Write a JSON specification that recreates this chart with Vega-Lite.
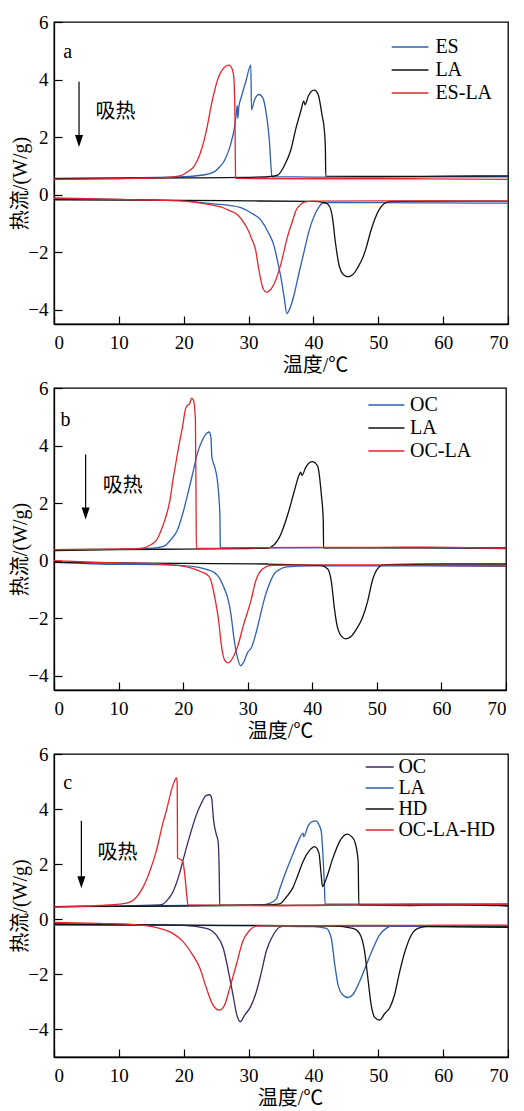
{
"$schema": "https://vega.github.io/schema/vega-lite/v6.json",
"padding": {"left": 10, "top": 12, "right": 0, "bottom": 0},
"background": "white",
"spacing": 64,
"bounds": "flush",
"resolve": {"scale": {"color": "independent", "x": "independent", "y": "independent"}, "legend": {"color": "independent"}},
"config": {
  "view": {"stroke": "black", "strokeWidth": 1.3},
  "style": {"guide-label": {"font": "Liberation Serif"}, "guide-title": {"font": "Liberation Serif, Noto Sans CJK SC"}},
  "axis": {"grid": false, "domainColor": "black", "domainWidth": 1.3, "tickColor": "black", "tickSize": -8, "tickWidth": 1.2,
           "labelFont": "Liberation Serif", "labelFontSize": 19, "labelColor": "black",
           "titleFont": "Liberation Serif, Noto Sans CJK SC", "titleFontSize": 20, "titleFontWeight": "normal", "titleColor": "black"},
  "axisX": {"labelPadding": 17, "titlePadding": 3},
  "axisY": {"labelPadding": 14, "titlePadding": -3},
  "legend": {"orient": "none", "title": null, "labelFont": "Liberation Serif", "labelFontSize": 20, "labelColor": "black",
             "symbolStrokeWidth": 1.5, "rowPadding": 0}
},
"datasets": {
"a": [
{"s":"ES","b":"u","t":0,"q":0.56},{"s":"ES","b":"u","t":10,"q":0.58},{"s":"ES","b":"u","t":20,"q":0.62},{"s":"ES","b":"u","t":23,"q":0.68},{"s":"ES","b":"u","t":24.6,"q":0.78},{"s":"ES","b":"u","t":25.5,"q":0.95},{"s":"ES","b":"u","t":26.2,"q":1.15},{"s":"ES","b":"u","t":26.8,"q":1.45},{"s":"ES","b":"u","t":27.3,"q":1.8},{"s":"ES","b":"u","t":27.8,"q":2.3},{"s":"ES","b":"u","t":28.1,"q":2.8},{"s":"ES","b":"u","t":28.25,"q":3.1},{"s":"ES","b":"u","t":28.35,"q":2.65},{"s":"ES","b":"u","t":28.5,"q":3.05},{"s":"ES","b":"u","t":28.9,"q":3.4},{"s":"ES","b":"u","t":29.6,"q":3.95},{"s":"ES","b":"u","t":30.35,"q":4.5},{"s":"ES","b":"u","t":30.45,"q":2.95},{"s":"ES","b":"u","t":30.9,"q":3.28},{"s":"ES","b":"u","t":31.6,"q":3.48},{"s":"ES","b":"u","t":32.2,"q":3.36},{"s":"ES","b":"u","t":32.7,"q":2.85},{"s":"ES","b":"u","t":33.2,"q":1.9},{"s":"ES","b":"u","t":33.45,"q":1.0},{"s":"ES","b":"u","t":33.6,"q":0.62},{"s":"ES","b":"u","t":40,"q":0.61},{"s":"ES","b":"u","t":50,"q":0.61},{"s":"ES","b":"u","t":60,"q":0.62},{"s":"ES","b":"u","t":70,"q":0.62},
{"s":"ES","b":"d","t":0,"q":-0.14},{"s":"ES","b":"d","t":10,"q":-0.17},{"s":"ES","b":"d","t":20,"q":-0.22},{"s":"ES","b":"d","t":22.6,"q":-0.27},{"s":"ES","b":"d","t":25,"q":-0.33},{"s":"ES","b":"d","t":26.8,"q":-0.37},{"s":"ES","b":"d","t":28.8,"q":-0.45},{"s":"ES","b":"d","t":30.5,"q":-0.65},{"s":"ES","b":"d","t":31.9,"q":-0.89},{"s":"ES","b":"d","t":33.0,"q":-1.3},{"s":"ES","b":"d","t":33.95,"q":-1.8},{"s":"ES","b":"d","t":34.5,"q":-2.35},{"s":"ES","b":"d","t":35.0,"q":-2.9},{"s":"ES","b":"d","t":35.5,"q":-3.6},{"s":"ES","b":"d","t":35.9,"q":-4.14},{"s":"ES","b":"d","t":36.3,"q":-4.0},{"s":"ES","b":"d","t":37.0,"q":-3.5},{"s":"ES","b":"d","t":37.8,"q":-2.7},{"s":"ES","b":"d","t":38.6,"q":-1.94},{"s":"ES","b":"d","t":39.4,"q":-1.2},{"s":"ES","b":"d","t":40.1,"q":-0.75},{"s":"ES","b":"d","t":40.8,"q":-0.45},{"s":"ES","b":"d","t":41.4,"q":-0.3},{"s":"ES","b":"d","t":42.5,"q":-0.28},{"s":"ES","b":"d","t":50,"q":-0.28},{"s":"ES","b":"d","t":60,"q":-0.29},{"s":"ES","b":"d","t":70,"q":-0.3},
{"s":"LA","b":"u","t":0,"q":0.55},{"s":"LA","b":"u","t":10,"q":0.57},{"s":"LA","b":"u","t":20,"q":0.58},{"s":"LA","b":"u","t":30,"q":0.6},{"s":"LA","b":"u","t":33,"q":0.62},{"s":"LA","b":"u","t":34.5,"q":0.68},{"s":"LA","b":"u","t":35.5,"q":1.0},{"s":"LA","b":"u","t":36.5,"q":1.54},{"s":"LA","b":"u","t":37.3,"q":2.3},{"s":"LA","b":"u","t":38.1,"q":2.94},{"s":"LA","b":"u","t":38.5,"q":3.25},{"s":"LA","b":"u","t":38.7,"q":3.12},{"s":"LA","b":"u","t":39.2,"q":3.42},{"s":"LA","b":"u","t":40.1,"q":3.63},{"s":"LA","b":"u","t":40.7,"q":3.5},{"s":"LA","b":"u","t":41.3,"q":2.8},{"s":"LA","b":"u","t":41.7,"q":2.2},{"s":"LA","b":"u","t":41.85,"q":1.54},{"s":"LA","b":"u","t":41.9,"q":0.64},{"s":"LA","b":"u","t":50,"q":0.63},{"s":"LA","b":"u","t":60,"q":0.64},{"s":"LA","b":"u","t":70,"q":0.65},
{"s":"LA","b":"d","t":0,"q":-0.18},{"s":"LA","b":"d","t":10,"q":-0.19},{"s":"LA","b":"d","t":20,"q":-0.2},{"s":"LA","b":"d","t":30,"q":-0.22},{"s":"LA","b":"d","t":40,"q":-0.24},{"s":"LA","b":"d","t":41.5,"q":-0.27},{"s":"LA","b":"d","t":42.2,"q":-0.33},{"s":"LA","b":"d","t":42.7,"q":-0.54},{"s":"LA","b":"d","t":43.0,"q":-0.9},{"s":"LA","b":"d","t":43.3,"q":-1.5},{"s":"LA","b":"d","t":43.6,"q":-2.0},{"s":"LA","b":"d","t":44.0,"q":-2.5},{"s":"LA","b":"d","t":44.6,"q":-2.78},{"s":"LA","b":"d","t":45.3,"q":-2.86},{"s":"LA","b":"d","t":46.1,"q":-2.78},{"s":"LA","b":"d","t":46.8,"q":-2.55},{"s":"LA","b":"d","t":47.6,"q":-2.2},{"s":"LA","b":"d","t":48.2,"q":-1.8},{"s":"LA","b":"d","t":48.8,"q":-1.3},{"s":"LA","b":"d","t":49.4,"q":-0.89},{"s":"LA","b":"d","t":50.2,"q":-0.5},{"s":"LA","b":"d","t":51.0,"q":-0.3},{"s":"LA","b":"d","t":52,"q":-0.24},{"s":"LA","b":"d","t":60,"q":-0.23},{"s":"LA","b":"d","t":70,"q":-0.23},
{"s":"ES-LA","b":"u","t":0,"q":0.53},{"s":"ES-LA","b":"u","t":10,"q":0.55},{"s":"ES-LA","b":"u","t":17.5,"q":0.6},{"s":"ES-LA","b":"u","t":19.55,"q":0.66},{"s":"ES-LA","b":"u","t":20.5,"q":0.78},{"s":"ES-LA","b":"u","t":21.6,"q":0.98},{"s":"ES-LA","b":"u","t":22.5,"q":1.4},{"s":"ES-LA","b":"u","t":23.15,"q":1.89},{"s":"ES-LA","b":"u","t":23.7,"q":2.45},{"s":"ES-LA","b":"u","t":24.2,"q":3.05},{"s":"ES-LA","b":"u","t":24.7,"q":3.55},{"s":"ES-LA","b":"u","t":25.2,"q":3.98},{"s":"ES-LA","b":"u","t":26.0,"q":4.35},{"s":"ES-LA","b":"u","t":27.0,"q":4.5},{"s":"ES-LA","b":"u","t":27.5,"q":4.35},{"s":"ES-LA","b":"u","t":27.75,"q":4.0},{"s":"ES-LA","b":"u","t":27.9,"q":2.7},{"s":"ES-LA","b":"u","t":28.0,"q":0.6},{"s":"ES-LA","b":"u","t":28.1,"q":0.56},{"s":"ES-LA","b":"u","t":40,"q":0.55},{"s":"ES-LA","b":"u","t":55,"q":0.55},{"s":"ES-LA","b":"u","t":70,"q":0.53},
{"s":"ES-LA","b":"d","t":0,"q":-0.12},{"s":"ES-LA","b":"d","t":10,"q":-0.17},{"s":"ES-LA","b":"d","t":19.55,"q":-0.22},{"s":"ES-LA","b":"d","t":22,"q":-0.28},{"s":"ES-LA","b":"d","t":24,"q":-0.35},{"s":"ES-LA","b":"d","t":25.7,"q":-0.43},{"s":"ES-LA","b":"d","t":27,"q":-0.55},{"s":"ES-LA","b":"d","t":28.3,"q":-0.7},{"s":"ES-LA","b":"d","t":29.2,"q":-0.95},{"s":"ES-LA","b":"d","t":29.85,"q":-1.2},{"s":"ES-LA","b":"d","t":30.5,"q":-1.55},{"s":"ES-LA","b":"d","t":31.1,"q":-1.94},{"s":"ES-LA","b":"d","t":31.5,"q":-2.5},{"s":"ES-LA","b":"d","t":31.9,"q":-2.98},{"s":"ES-LA","b":"d","t":32.3,"q":-3.3},{"s":"ES-LA","b":"d","t":32.8,"q":-3.4},{"s":"ES-LA","b":"d","t":33.4,"q":-3.3},{"s":"ES-LA","b":"d","t":33.95,"q":-3.1},{"s":"ES-LA","b":"d","t":35.0,"q":-2.4},{"s":"ES-LA","b":"d","t":36.0,"q":-1.47},{"s":"ES-LA","b":"d","t":36.8,"q":-0.9},{"s":"ES-LA","b":"d","t":37.3,"q":-0.55},{"s":"ES-LA","b":"d","t":38.0,"q":-0.35},{"s":"ES-LA","b":"d","t":38.6,"q":-0.26},{"s":"ES-LA","b":"d","t":40,"q":-0.23},{"s":"ES-LA","b":"d","t":50,"q":-0.22},{"s":"ES-LA","b":"d","t":60,"q":-0.22},{"s":"ES-LA","b":"d","t":70,"q":-0.23}
],
"b": [
{"s":"OC","b":"u","t":0,"q":0.38},{"s":"OC","b":"u","t":10,"q":0.4},{"s":"OC","b":"u","t":14,"q":0.42},{"s":"OC","b":"u","t":16.0,"q":0.45},{"s":"OC","b":"u","t":17.05,"q":0.5},{"s":"OC","b":"u","t":18.0,"q":0.7},{"s":"OC","b":"u","t":19.1,"q":1.05},{"s":"OC","b":"u","t":19.9,"q":1.6},{"s":"OC","b":"u","t":20.7,"q":2.3},{"s":"OC","b":"u","t":21.5,"q":3.05},{"s":"OC","b":"u","t":22.2,"q":3.72},{"s":"OC","b":"u","t":23.0,"q":4.2},{"s":"OC","b":"u","t":23.5,"q":4.39},{"s":"OC","b":"u","t":24.0,"q":4.47},{"s":"OC","b":"u","t":24.3,"q":4.3},{"s":"OC","b":"u","t":24.45,"q":3.6},{"s":"OC","b":"u","t":24.9,"q":3.25},{"s":"OC","b":"u","t":25.3,"q":2.79},{"s":"OC","b":"u","t":25.6,"q":2.0},{"s":"OC","b":"u","t":25.7,"q":1.5},{"s":"OC","b":"u","t":25.75,"q":0.46},{"s":"OC","b":"u","t":25.8,"q":0.44},{"s":"OC","b":"u","t":35,"q":0.44},{"s":"OC","b":"u","t":45,"q":0.45},{"s":"OC","b":"u","t":55,"q":0.45},{"s":"OC","b":"u","t":70,"q":0.42},
{"s":"OC","b":"d","t":0,"q":-0.06},{"s":"OC","b":"d","t":7.2,"q":-0.12},{"s":"OC","b":"d","t":17.6,"q":-0.15},{"s":"OC","b":"d","t":21.7,"q":-0.21},{"s":"OC","b":"d","t":23.5,"q":-0.3},{"s":"OC","b":"d","t":24.8,"q":-0.41},{"s":"OC","b":"d","t":25.6,"q":-0.6},{"s":"OC","b":"d","t":26.3,"q":-0.93},{"s":"OC","b":"d","t":26.9,"q":-1.3},{"s":"OC","b":"d","t":27.4,"q":-1.86},{"s":"OC","b":"d","t":27.9,"q":-2.75},{"s":"OC","b":"d","t":28.4,"q":-3.36},{"s":"OC","b":"d","t":28.9,"q":-3.66},{"s":"OC","b":"d","t":29.3,"q":-3.56},{"s":"OC","b":"d","t":30.0,"q":-3.19},{"s":"OC","b":"d","t":30.6,"q":-3.01},{"s":"OC","b":"d","t":31.25,"q":-2.55},{"s":"OC","b":"d","t":32.0,"q":-1.86},{"s":"OC","b":"d","t":32.5,"q":-1.4},{"s":"OC","b":"d","t":33.05,"q":-1.0},{"s":"OC","b":"d","t":34.1,"q":-0.46},{"s":"OC","b":"d","t":35.0,"q":-0.3},{"s":"OC","b":"d","t":36,"q":-0.22},{"s":"OC","b":"d","t":40,"q":-0.18},{"s":"OC","b":"d","t":55,"q":-0.18},{"s":"OC","b":"d","t":70,"q":-0.2},
{"s":"LA","b":"u","t":0,"q":0.35},{"s":"LA","b":"u","t":10,"q":0.38},{"s":"LA","b":"u","t":20,"q":0.4},{"s":"LA","b":"u","t":30,"q":0.42},{"s":"LA","b":"u","t":33,"q":0.43},{"s":"LA","b":"u","t":34.1,"q":0.55},{"s":"LA","b":"u","t":35.1,"q":0.9},{"s":"LA","b":"u","t":36.2,"q":1.6},{"s":"LA","b":"u","t":37.2,"q":2.4},{"s":"LA","b":"u","t":38.0,"q":3.0},{"s":"LA","b":"u","t":38.2,"q":3.07},{"s":"LA","b":"u","t":38.4,"q":2.96},{"s":"LA","b":"u","t":39.0,"q":3.25},{"s":"LA","b":"u","t":40.0,"q":3.44},{"s":"LA","b":"u","t":40.8,"q":3.3},{"s":"LA","b":"u","t":41.4,"q":2.3},{"s":"LA","b":"u","t":41.7,"q":1.4},{"s":"LA","b":"u","t":41.75,"q":0.44},{"s":"LA","b":"u","t":50,"q":0.44},{"s":"LA","b":"u","t":60,"q":0.44},{"s":"LA","b":"u","t":70,"q":0.44},
{"s":"LA","b":"d","t":0,"q":-0.06},{"s":"LA","b":"d","t":10,"q":-0.08},{"s":"LA","b":"d","t":20,"q":-0.1},{"s":"LA","b":"d","t":33,"q":-0.12},{"s":"LA","b":"d","t":41.3,"q":-0.17},{"s":"LA","b":"d","t":42.4,"q":-0.29},{"s":"LA","b":"d","t":43.0,"q":-0.8},{"s":"LA","b":"d","t":43.4,"q":-1.62},{"s":"LA","b":"d","t":43.9,"q":-2.32},{"s":"LA","b":"d","t":44.7,"q":-2.67},{"s":"LA","b":"d","t":45.2,"q":-2.72},{"s":"LA","b":"d","t":46.0,"q":-2.64},{"s":"LA","b":"d","t":46.7,"q":-2.43},{"s":"LA","b":"d","t":47.8,"q":-1.97},{"s":"LA","b":"d","t":48.6,"q":-1.39},{"s":"LA","b":"d","t":49.3,"q":-0.7},{"s":"LA","b":"d","t":50.1,"q":-0.29},{"s":"LA","b":"d","t":51.1,"q":-0.14},{"s":"LA","b":"d","t":60,"q":-0.12},{"s":"LA","b":"d","t":70,"q":-0.12},
{"s":"OC-LA","b":"u","t":0,"q":0.38},{"s":"OC-LA","b":"u","t":10,"q":0.4},{"s":"OC-LA","b":"u","t":13.4,"q":0.42},{"s":"OC-LA","b":"u","t":15.0,"q":0.55},{"s":"OC-LA","b":"u","t":16.0,"q":0.75},{"s":"OC-LA","b":"u","t":16.5,"q":1.0},{"s":"OC-LA","b":"u","t":17.0,"q":1.3},{"s":"OC-LA","b":"u","t":17.6,"q":1.74},{"s":"OC-LA","b":"u","t":18.0,"q":2.15},{"s":"OC-LA","b":"u","t":18.35,"q":2.7},{"s":"OC-LA","b":"u","t":18.8,"q":3.3},{"s":"OC-LA","b":"u","t":19.4,"q":4.07},{"s":"OC-LA","b":"u","t":19.9,"q":4.64},{"s":"OC-LA","b":"u","t":20.4,"q":5.3},{"s":"OC-LA","b":"u","t":20.7,"q":5.4},{"s":"OC-LA","b":"u","t":21.0,"q":5.45},{"s":"OC-LA","b":"u","t":21.3,"q":5.65},{"s":"OC-LA","b":"u","t":21.6,"q":5.57},{"s":"OC-LA","b":"u","t":21.9,"q":4.9},{"s":"OC-LA","b":"u","t":22.0,"q":2.0},{"s":"OC-LA","b":"u","t":22.05,"q":0.42},{"s":"OC-LA","b":"u","t":30,"q":0.44},{"s":"OC-LA","b":"u","t":40,"q":0.46},{"s":"OC-LA","b":"u","t":50,"q":0.46},{"s":"OC-LA","b":"u","t":58,"q":0.47},{"s":"OC-LA","b":"u","t":70,"q":0.42},
{"s":"OC-LA","b":"d","t":0,"q":0.0},{"s":"OC-LA","b":"d","t":5,"q":-0.05},{"s":"OC-LA","b":"d","t":10,"q":-0.08},{"s":"OC-LA","b":"d","t":17.6,"q":-0.14},{"s":"OC-LA","b":"d","t":20.7,"q":-0.23},{"s":"OC-LA","b":"d","t":22.7,"q":-0.38},{"s":"OC-LA","b":"d","t":24.0,"q":-0.55},{"s":"OC-LA","b":"d","t":24.5,"q":-0.85},{"s":"OC-LA","b":"d","t":25.0,"q":-1.4},{"s":"OC-LA","b":"d","t":25.5,"q":-2.1},{"s":"OC-LA","b":"d","t":25.9,"q":-2.9},{"s":"OC-LA","b":"d","t":26.4,"q":-3.45},{"s":"OC-LA","b":"d","t":27.0,"q":-3.56},{"s":"OC-LA","b":"d","t":27.4,"q":-3.48},{"s":"OC-LA","b":"d","t":28.4,"q":-3.01},{"s":"OC-LA","b":"d","t":29.4,"q":-2.2},{"s":"OC-LA","b":"d","t":30.5,"q":-1.39},{"s":"OC-LA","b":"d","t":31.25,"q":-0.7},{"s":"OC-LA","b":"d","t":32.3,"q":-0.29},{"s":"OC-LA","b":"d","t":33.6,"q":-0.17},{"s":"OC-LA","b":"d","t":40,"q":-0.15},{"s":"OC-LA","b":"d","t":50,"q":-0.15},{"s":"OC-LA","b":"d","t":58,"q":-0.17},{"s":"OC-LA","b":"d","t":70,"q":-0.18}
],
"c": [
{"s":"OC","b":"u","t":0,"q":0.46},{"s":"OC","b":"u","t":10,"q":0.48},{"s":"OC","b":"u","t":16.3,"q":0.52},{"s":"OC","b":"u","t":16.8,"q":0.55},{"s":"OC","b":"u","t":17.3,"q":0.65},{"s":"OC","b":"u","t":18.35,"q":1.0},{"s":"OC","b":"u","t":19.4,"q":1.7},{"s":"OC","b":"u","t":19.9,"q":2.15},{"s":"OC","b":"u","t":20.9,"q":3.0},{"s":"OC","b":"u","t":21.95,"q":3.79},{"s":"OC","b":"u","t":22.5,"q":4.1},{"s":"OC","b":"u","t":23.5,"q":4.5},{"s":"OC","b":"u","t":24.0,"q":4.52},{"s":"OC","b":"u","t":24.3,"q":4.4},{"s":"OC","b":"u","t":24.6,"q":3.61},{"s":"OC","b":"u","t":25.0,"q":3.1},{"s":"OC","b":"u","t":25.3,"q":2.83},{"s":"OC","b":"u","t":25.45,"q":1.98},{"s":"OC","b":"u","t":25.5,"q":1.3},{"s":"OC","b":"u","t":25.55,"q":0.52},{"s":"OC","b":"u","t":35,"q":0.5},{"s":"OC","b":"u","t":45,"q":0.52},{"s":"OC","b":"u","t":60,"q":0.52},{"s":"OC","b":"u","t":70,"q":0.48},
{"s":"OC","b":"d","t":0,"q":-0.17},{"s":"OC","b":"d","t":10,"q":-0.19},{"s":"OC","b":"d","t":20,"q":-0.22},{"s":"OC","b":"d","t":23.5,"q":-0.33},{"s":"OC","b":"d","t":25.0,"q":-0.57},{"s":"OC","b":"d","t":26.1,"q":-1.05},{"s":"OC","b":"d","t":26.8,"q":-1.78},{"s":"OC","b":"d","t":27.6,"q":-2.75},{"s":"OC","b":"d","t":28.2,"q":-3.48},{"s":"OC","b":"d","t":28.7,"q":-3.72},{"s":"OC","b":"d","t":29.4,"q":-3.48},{"s":"OC","b":"d","t":30.3,"q":-3.18},{"s":"OC","b":"d","t":31.2,"q":-2.63},{"s":"OC","b":"d","t":32.0,"q":-1.9},{"s":"OC","b":"d","t":32.7,"q":-1.18},{"s":"OC","b":"d","t":33.8,"q":-0.57},{"s":"OC","b":"d","t":34.8,"q":-0.29},{"s":"OC","b":"d","t":35.8,"q":-0.24},{"s":"OC","b":"d","t":50,"q":-0.25},{"s":"OC","b":"d","t":70,"q":-0.27},
{"s":"LA","b":"u","t":0,"q":0.46},{"s":"LA","b":"u","t":10,"q":0.48},{"s":"LA","b":"u","t":20,"q":0.5},{"s":"LA","b":"u","t":31.7,"q":0.52},{"s":"LA","b":"u","t":33.25,"q":0.58},{"s":"LA","b":"u","t":34.3,"q":0.75},{"s":"LA","b":"u","t":34.8,"q":1.1},{"s":"LA","b":"u","t":35.8,"q":1.75},{"s":"LA","b":"u","t":36.8,"q":2.34},{"s":"LA","b":"u","t":37.6,"q":2.8},{"s":"LA","b":"u","t":38.4,"q":3.13},{"s":"LA","b":"u","t":38.5,"q":3.0},{"s":"LA","b":"u","t":39.2,"q":3.4},{"s":"LA","b":"u","t":39.9,"q":3.55},{"s":"LA","b":"u","t":40.45,"q":3.57},{"s":"LA","b":"u","t":40.8,"q":3.45},{"s":"LA","b":"u","t":41.2,"q":3.2},{"s":"LA","b":"u","t":41.5,"q":2.2},{"s":"LA","b":"u","t":41.7,"q":1.2},{"s":"LA","b":"u","t":41.8,"q":0.55},{"s":"LA","b":"u","t":50,"q":0.55},{"s":"LA","b":"u","t":60,"q":0.56},{"s":"LA","b":"u","t":70,"q":0.56},
{"s":"LA","b":"d","t":0,"q":-0.21},{"s":"LA","b":"d","t":20,"q":-0.22},{"s":"LA","b":"d","t":39.9,"q":-0.27},{"s":"LA","b":"d","t":42.0,"q":-0.33},{"s":"LA","b":"d","t":42.75,"q":-0.69},{"s":"LA","b":"d","t":43.3,"q":-1.66},{"s":"LA","b":"d","t":43.8,"q":-2.39},{"s":"LA","b":"d","t":44.55,"q":-2.75},{"s":"LA","b":"d","t":45.3,"q":-2.84},{"s":"LA","b":"d","t":46.1,"q":-2.73},{"s":"LA","b":"d","t":47.1,"q":-2.27},{"s":"LA","b":"d","t":48.15,"q":-1.66},{"s":"LA","b":"d","t":49.2,"q":-1.05},{"s":"LA","b":"d","t":50.2,"q":-0.57},{"s":"LA","b":"d","t":51.2,"q":-0.33},{"s":"LA","b":"d","t":52.3,"q":-0.24},{"s":"LA","b":"d","t":70,"q":-0.24},
{"s":"HD","b":"u","t":0,"q":0.46},{"s":"HD","b":"u","t":10,"q":0.47},{"s":"HD","b":"u","t":20,"q":0.48},{"s":"HD","b":"u","t":32.7,"q":0.52},{"s":"HD","b":"u","t":34.8,"q":0.56},{"s":"HD","b":"u","t":35.8,"q":0.8},{"s":"HD","b":"u","t":36.8,"q":1.13},{"s":"HD","b":"u","t":37.6,"q":1.6},{"s":"HD","b":"u","t":38.4,"q":2.1},{"s":"HD","b":"u","t":39.4,"q":2.5},{"s":"HD","b":"u","t":40.2,"q":2.64},{"s":"HD","b":"u","t":40.85,"q":2.4},{"s":"HD","b":"u","t":41.2,"q":1.6},{"s":"HD","b":"u","t":41.4,"q":1.19},{"s":"HD","b":"u","t":42.0,"q":1.49},{"s":"HD","b":"u","t":43.0,"q":2.22},{"s":"HD","b":"u","t":44.05,"q":2.83},{"s":"HD","b":"u","t":45.2,"q":3.09},{"s":"HD","b":"u","t":45.9,"q":3.0},{"s":"HD","b":"u","t":46.4,"q":2.8},{"s":"HD","b":"u","t":46.9,"q":2.1},{"s":"HD","b":"u","t":47.0,"q":0.52},{"s":"HD","b":"u","t":55,"q":0.5},{"s":"HD","b":"u","t":62,"q":0.52},{"s":"HD","b":"u","t":70,"q":0.5},
{"s":"HD","b":"d","t":0,"q":-0.18},{"s":"HD","b":"d","t":20,"q":-0.21},{"s":"HD","b":"d","t":43.0,"q":-0.24},{"s":"HD","b":"d","t":46.1,"q":-0.33},{"s":"HD","b":"d","t":47.1,"q":-0.51},{"s":"HD","b":"d","t":47.9,"q":-1.18},{"s":"HD","b":"d","t":48.4,"q":-2.15},{"s":"HD","b":"d","t":48.9,"q":-3.11},{"s":"HD","b":"d","t":49.4,"q":-3.54},{"s":"HD","b":"d","t":50.2,"q":-3.66},{"s":"HD","b":"d","t":51.0,"q":-3.42},{"s":"HD","b":"d","t":51.7,"q":-3.24},{"s":"HD","b":"d","t":52.5,"q":-2.75},{"s":"HD","b":"d","t":53.3,"q":-1.9},{"s":"HD","b":"d","t":54.1,"q":-1.18},{"s":"HD","b":"d","t":55.1,"q":-0.57},{"s":"HD","b":"d","t":56.1,"q":-0.33},{"s":"HD","b":"d","t":57.4,"q":-0.27},{"s":"HD","b":"d","t":70,"q":-0.29},
{"s":"OC-LA-HD","b":"u","t":0,"q":0.44},{"s":"OC-LA-HD","b":"u","t":7.0,"q":0.5},{"s":"OC-LA-HD","b":"u","t":10.1,"q":0.55},{"s":"OC-LA-HD","b":"u","t":11.7,"q":0.62},{"s":"OC-LA-HD","b":"u","t":12.7,"q":0.8},{"s":"OC-LA-HD","b":"u","t":13.7,"q":1.15},{"s":"OC-LA-HD","b":"u","t":14.7,"q":1.7},{"s":"OC-LA-HD","b":"u","t":15.8,"q":2.5},{"s":"OC-LA-HD","b":"u","t":16.8,"q":3.5},{"s":"OC-LA-HD","b":"u","t":17.3,"q":3.92},{"s":"OC-LA-HD","b":"u","t":17.8,"q":4.4},{"s":"OC-LA-HD","b":"u","t":18.35,"q":4.88},{"s":"OC-LA-HD","b":"u","t":18.75,"q":5.1},{"s":"OC-LA-HD","b":"u","t":18.9,"q":5.13},{"s":"OC-LA-HD","b":"u","t":19.0,"q":4.9},{"s":"OC-LA-HD","b":"u","t":19.05,"q":2.22},{"s":"OC-LA-HD","b":"u","t":19.6,"q":2.16},{"s":"OC-LA-HD","b":"u","t":19.9,"q":2.05},{"s":"OC-LA-HD","b":"u","t":20.1,"q":1.75},{"s":"OC-LA-HD","b":"u","t":20.3,"q":1.3},{"s":"OC-LA-HD","b":"u","t":20.5,"q":0.8},{"s":"OC-LA-HD","b":"u","t":20.65,"q":0.52},{"s":"OC-LA-HD","b":"u","t":30,"q":0.5},{"s":"OC-LA-HD","b":"u","t":40,"q":0.5},{"s":"OC-LA-HD","b":"u","t":50,"q":0.52},{"s":"OC-LA-HD","b":"u","t":60,"q":0.52},{"s":"OC-LA-HD","b":"u","t":70,"q":0.55},
{"s":"OC-LA-HD","b":"d","t":0,"q":-0.11},{"s":"OC-LA-HD","b":"d","t":7.0,"q":-0.15},{"s":"OC-LA-HD","b":"d","t":13.2,"q":-0.21},{"s":"OC-LA-HD","b":"d","t":16.3,"q":-0.33},{"s":"OC-LA-HD","b":"d","t":18.3,"q":-0.51},{"s":"OC-LA-HD","b":"d","t":19.9,"q":-0.81},{"s":"OC-LA-HD","b":"d","t":21.4,"q":-1.3},{"s":"OC-LA-HD","b":"d","t":22.5,"q":-1.78},{"s":"OC-LA-HD","b":"d","t":23.5,"q":-2.5},{"s":"OC-LA-HD","b":"d","t":24.5,"q":-3.11},{"s":"OC-LA-HD","b":"d","t":25.5,"q":-3.3},{"s":"OC-LA-HD","b":"d","t":26.3,"q":-3.11},{"s":"OC-LA-HD","b":"d","t":27.1,"q":-2.5},{"s":"OC-LA-HD","b":"d","t":28.1,"q":-1.66},{"s":"OC-LA-HD","b":"d","t":29.1,"q":-0.81},{"s":"OC-LA-HD","b":"d","t":30.2,"q":-0.39},{"s":"OC-LA-HD","b":"d","t":31.45,"q":-0.24},{"s":"OC-LA-HD","b":"d","t":40,"q":-0.23},{"s":"OC-LA-HD","b":"d","t":55,"q":-0.22},{"s":"OC-LA-HD","b":"d","t":70,"q":-0.21}
],
"notes": [
{"p":"a","k":"letter","label":"a","t":2.1,"q":4.95},
{"p":"a","k":"word","label":"吸热","t":9.5,"q":2.87},
{"p":"a","k":"arrow","t":3.86,"q":3.92,"q2":1.86},
{"p":"b","k":"letter","label":"b","t":1.8,"q":4.88},
{"p":"b","k":"word","label":"吸热","t":10.65,"q":2.61},
{"p":"b","k":"arrow","t":4.9,"q":3.69,"q2":1.64},
{"p":"c","k":"letter","label":"c","t":2.1,"q":4.94},
{"p":"c","k":"word","label":"吸热","t":9.8,"q":2.4},
{"p":"c","k":"arrow","t":4.22,"q":3.58,"q2":1.34}
]
},
"vconcat": [
{
 "width": 454, "height": 302,
 "layer": [
  {"data": {"name": "a"}, "mark": {"type": "line", "strokeWidth": 1.3, "interpolate": "monotone"},
   "encoding": {
    "x": {"field": "t", "type": "quantitative", "scale": {"domain": [0, 70], "nice": false}, "axis": {"values": [0,10,20,30,40,50,60,70], "title": "温度/℃", "titleX": 261}},
    "y": {"field": "q", "type": "quantitative", "scale": {"domain": [-4.5, 6], "nice": false}, "axis": {"values": [-4,-2,0,2,4,6], "title": "热流/(W/g)", "titleY": 161}},
    "color": {"field": "s", "type": "nominal", "scale": {"domain": ["ES","LA","ES-LA"], "range": ["#2e5fb3","#111111","#e5262d"]},
              "legend": {"legendX": 349.4, "legendY": 12, "symbolType": "M-2.06,0H1", "symbolSize": 576, "labelOffset": 6}},
    "detail": {"field": "b"}
   }},
  {"data": {"name": "notes"}, "transform": [{"filter": "datum.p == 'a' && datum.k == 'letter'"}],
   "mark": {"type": "text", "font": "Liberation Serif", "fontSize": 20, "color": "black", "align": "center", "baseline": "middle"},
   "encoding": {"x": {"field": "t", "type": "quantitative"}, "y": {"field": "q", "type": "quantitative"}, "text": {"field": "label"}}},
  {"data": {"name": "notes"}, "transform": [{"filter": "datum.p == 'a' && datum.k == 'word'"}],
   "mark": {"type": "text", "font": "Noto Sans CJK SC", "fontSize": 20, "color": "black", "align": "center", "baseline": "middle"},
   "encoding": {"x": {"field": "t", "type": "quantitative"}, "y": {"field": "q", "type": "quantitative"}, "text": {"field": "label"}}},
  {"data": {"name": "notes"}, "transform": [{"filter": "datum.p == 'a' && datum.k == 'arrow'"}],
   "mark": {"type": "rule", "color": "black", "strokeWidth": 1.2},
   "encoding": {"x": {"field": "t", "type": "quantitative"}, "y": {"field": "q", "type": "quantitative"}, "y2": {"field": "q2"}}},
  {"data": {"name": "notes"}, "transform": [{"filter": "datum.p == 'a' && datum.k == 'arrow'"}],
   "mark": {"type": "point", "shape": "M-0.67,-1L0.67,-1L0,1Z", "size": 144, "filled": true, "color": "black", "opacity": 1},
   "encoding": {"x": {"field": "t", "type": "quantitative"}, "y": {"field": "q2", "type": "quantitative"}}}
 ]
},
{
 "width": 452, "height": 302,
 "layer": [
  {"data": {"name": "b"}, "mark": {"type": "line", "strokeWidth": 1.3, "interpolate": "monotone"},
   "encoding": {
    "x": {"field": "t", "type": "quantitative", "scale": {"domain": [0, 70], "nice": false}, "axis": {"values": [0,10,20,30,40,50,60,70], "title": "温度/℃"}},
    "y": {"field": "q", "type": "quantitative", "scale": {"domain": [-4.5, 6], "nice": false}, "axis": {"values": [-4,-2,0,2,4,6], "title": "热流/(W/g)", "titleY": 161}},
    "color": {"field": "s", "type": "nominal", "scale": {"domain": ["OC","LA","OC-LA"], "range": ["#2e5fb3","#111111","#e5262d"]},
              "legend": {"legendX": 325, "legendY": 4, "symbolType": "M-1.97,0H1.03", "symbolSize": 576, "labelOffset": 5}},
    "detail": {"field": "b"}
   }},
  {"data": {"name": "notes"}, "transform": [{"filter": "datum.p == 'b' && datum.k == 'letter'"}],
   "mark": {"type": "text", "font": "Liberation Serif", "fontSize": 20, "color": "black", "align": "center", "baseline": "middle"},
   "encoding": {"x": {"field": "t", "type": "quantitative"}, "y": {"field": "q", "type": "quantitative"}, "text": {"field": "label"}}},
  {"data": {"name": "notes"}, "transform": [{"filter": "datum.p == 'b' && datum.k == 'word'"}],
   "mark": {"type": "text", "font": "Noto Sans CJK SC", "fontSize": 20, "color": "black", "align": "center", "baseline": "middle"},
   "encoding": {"x": {"field": "t", "type": "quantitative"}, "y": {"field": "q", "type": "quantitative"}, "text": {"field": "label"}}},
  {"data": {"name": "notes"}, "transform": [{"filter": "datum.p == 'b' && datum.k == 'arrow'"}],
   "mark": {"type": "rule", "color": "black", "strokeWidth": 1.2},
   "encoding": {"x": {"field": "t", "type": "quantitative"}, "y": {"field": "q", "type": "quantitative"}, "y2": {"field": "q2"}}},
  {"data": {"name": "notes"}, "transform": [{"filter": "datum.p == 'b' && datum.k == 'arrow'"}],
   "mark": {"type": "point", "shape": "M-0.67,-1L0.67,-1L0,1Z", "size": 144, "filled": true, "color": "black", "opacity": 1},
   "encoding": {"x": {"field": "t", "type": "quantitative"}, "y": {"field": "q2", "type": "quantitative"}}}
 ]
},
{
 "width": 454, "height": 303,
 "layer": [
  {"data": {"name": "c"}, "mark": {"type": "line", "strokeWidth": 1.3, "interpolate": "monotone"},
   "encoding": {
    "x": {"field": "t", "type": "quantitative", "scale": {"domain": [0, 70], "nice": false}, "axis": {"values": [0,10,20,30,40,50,60,70], "title": "温度/℃", "titleX": 236}},
    "y": {"field": "q", "type": "quantitative", "scale": {"domain": [-5, 6], "nice": false}, "axis": {"values": [-4,-2,0,2,4,6], "title": "热流/(W/g)"}},
    "color": {"field": "s", "type": "nominal", "scale": {"domain": ["OC","LA","HD","OC-LA-HD"], "range": ["#3e2762","#2e5fb3","#111111","#e5262d"]},
              "legend": {"legendX": 318.4, "legendY": 2, "symbolType": "M-1.77,0H1.03", "symbolSize": 400, "labelOffset": 4}},
    "detail": {"field": "b"}
   }},
  {"data": {"name": "notes"}, "transform": [{"filter": "datum.p == 'c' && datum.k == 'letter'"}],
   "mark": {"type": "text", "font": "Liberation Serif", "fontSize": 20, "color": "black", "align": "center", "baseline": "middle"},
   "encoding": {"x": {"field": "t", "type": "quantitative"}, "y": {"field": "q", "type": "quantitative"}, "text": {"field": "label"}}},
  {"data": {"name": "notes"}, "transform": [{"filter": "datum.p == 'c' && datum.k == 'word'"}],
   "mark": {"type": "text", "font": "Noto Sans CJK SC", "fontSize": 20, "color": "black", "align": "center", "baseline": "middle"},
   "encoding": {"x": {"field": "t", "type": "quantitative"}, "y": {"field": "q", "type": "quantitative"}, "text": {"field": "label"}}},
  {"data": {"name": "notes"}, "transform": [{"filter": "datum.p == 'c' && datum.k == 'arrow'"}],
   "mark": {"type": "rule", "color": "black", "strokeWidth": 1.2},
   "encoding": {"x": {"field": "t", "type": "quantitative"}, "y": {"field": "q", "type": "quantitative"}, "y2": {"field": "q2"}}},
  {"data": {"name": "notes"}, "transform": [{"filter": "datum.p == 'c' && datum.k == 'arrow'"}],
   "mark": {"type": "point", "shape": "M-0.67,-1L0.67,-1L0,1Z", "size": 144, "filled": true, "color": "black", "opacity": 1},
   "encoding": {"x": {"field": "t", "type": "quantitative"}, "y": {"field": "q2", "type": "quantitative"}}}
 ]
}
]
}
